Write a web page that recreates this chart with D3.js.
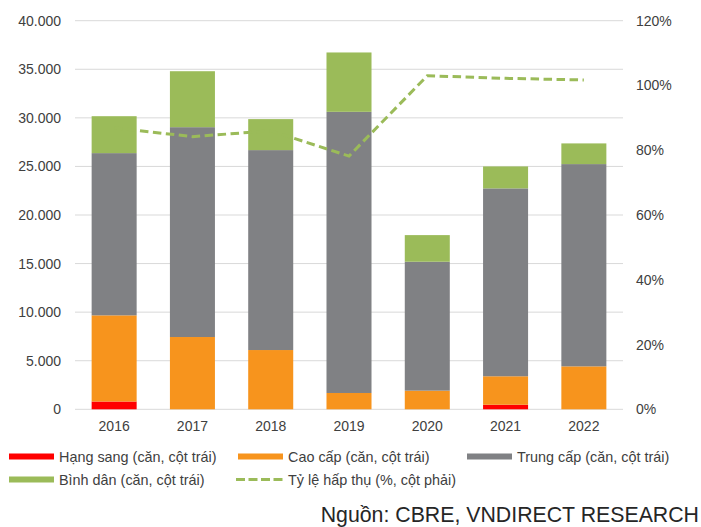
<!DOCTYPE html>
<html>
<head>
<meta charset="utf-8">
<script src="https://cdn.jsdelivr.net/npm/d3@7"></script>
<style>
  html, body { margin: 0; padding: 0; background: #fff; }
  svg { display: block; font-family: "Liberation Sans", Arial, sans-serif; }
</style>
</head>
<body>
<svg id="chart" width="701" height="527"></svg>
<script>
// ---- Data ----
const years = ["2016", "2017", "2018", "2019", "2020", "2021", "2022"];
const hangSang = [800, 0, 0, 0, 0, 470, 0];
const caoCap = [8870, 7440, 6100, 1680, 1920, 2930, 4420];
const trungCap = [16700, 21600, 20580, 28940, 13270, 19340, 20820];
const binhDan = [3800, 5760, 3190, 6110, 2740, 2260, 2130];
const tyLeHapThu = [86.9, 84.2, 86.0, 78.2, 103.0, 102.2, 101.7];

const leftTicks = [0, 5000, 10000, 15000, 20000, 25000, 30000, 35000, 40000];
const rightTicks = [0, 20, 40, 60, 80, 100, 120];

const seriesNames = ["Hạng sang (căn, cột trái)", "Cao cấp (căn, cột trái)", "Trung cấp (căn, cột trái)", "Bình dân (căn, cột trái)"];
const lineName = "Tỷ lệ hấp thụ (%, cột phải)";
const sourceText = "Nguồn: CBRE, VNDIRECT RESEARCH";

// ---- Styles ----
const colors = ["#FF0000", "#F7941D", "#808184", "#9BBB59"];
const lineColor = "#9BBB59";
const textColor = "#404040";

// ---- Layout ----
const svg = d3.select("#chart");
const plot = { left: 75, right: 623, top: 20.7, bottom: 409.3 };

const x = d3.scaleBand().domain(years).range([plot.left, plot.right])
  .paddingInner(0.425).paddingOuter(0.2125);
const yL = d3.scaleLinear().domain([0, 40000]).range([plot.bottom, plot.top]);
const yR = d3.scaleLinear().domain([0, 120]).range([plot.bottom, plot.top]);

const loc = d3.formatLocale({ decimal: ",", thousands: ".", grouping: [3], currency: ["", ""] });
const fmtL = loc.format(",d");

// gridlines
svg.append("g").selectAll("line").data(leftTicks).join("line")
  .attr("x1", plot.left).attr("x2", plot.right)
  .attr("y1", d => yL(d)).attr("y2", d => yL(d))
  .attr("stroke", "#d9d9d9").attr("stroke-width", 1);

// left axis
const axL = d3.axisLeft(yL).tickValues(leftTicks).tickFormat(d => d === 0 ? "0" : fmtL(d)).tickSize(0).tickPadding(0);
const gL = svg.append("g").attr("transform", `translate(61,0)`).call(axL);
gL.select(".domain").remove();
gL.selectAll("text").attr("fill", textColor).attr("font-size", 14).attr("font-family", "Liberation Sans, Arial, sans-serif");

// right axis
const axR = d3.axisRight(yR).tickValues(rightTicks).tickFormat(d => d + "%").tickSize(0).tickPadding(0);
const gR = svg.append("g").attr("transform", `translate(636,0)`).call(axR);
gR.select(".domain").remove();
gR.selectAll("text").attr("fill", textColor).attr("font-size", 14).attr("font-family", "Liberation Sans, Arial, sans-serif");

// bottom axis
const axB = d3.axisBottom(x).tickSize(0).tickPadding(0);
const gB = svg.append("g").attr("transform", `translate(0,${plot.bottom + 12})`).call(axB);
gB.select(".domain").remove();
gB.selectAll("text").attr("fill", textColor).attr("font-size", 14).attr("font-family", "Liberation Sans, Arial, sans-serif");

// stacked bars
const table = years.map((yr, i) => ({ year: yr, s0: hangSang[i], s1: caoCap[i], s2: trungCap[i], s3: binhDan[i] }));
const stack = d3.stack().keys(["s0", "s1", "s2", "s3"])(table);
svg.append("g").selectAll("g").data(stack).join("g")
  .attr("fill", (d, i) => colors[i])
  .selectAll("rect").data(d => d).join("rect")
  .attr("x", d => x(d.data.year))
  .attr("width", x.bandwidth())
  .attr("y", d => yL(d[1]))
  .attr("height", d => yL(d[0]) - yL(d[1]));

// line
const line = d3.line().x((d, i) => x(years[i]) + x.bandwidth() / 2).y(d => yR(d));
svg.append("path").datum(tyLeHapThu)
  .attr("d", line).attr("fill", "none")
  .attr("stroke", lineColor).attr("stroke-width", 3)
  .attr("stroke-dasharray", "8.5,4.5");

// legend
const legendItems = [
  { name: seriesNames[0], color: colors[0], type: "bar", sx: 9, tx: 59, y: 456.5 },
  { name: seriesNames[1], color: colors[1], type: "bar", sx: 238, tx: 288, y: 456.5 },
  { name: seriesNames[2], color: colors[2], type: "bar", sx: 467, tx: 517, y: 456.5 },
  { name: seriesNames[3], color: colors[3], type: "bar", sx: 9, tx: 59, y: 479.5 },
  { name: lineName, color: lineColor, type: "line", sx: 236, tx: 288, y: 479.5 }
];
const lg = svg.append("g");
legendItems.forEach(it => {
  if (it.type === "bar") {
    lg.append("rect").attr("x", it.sx).attr("y", it.y - 3).attr("width", 45).attr("height", 6).attr("fill", it.color);
  } else {
    lg.append("line").attr("x1", it.sx).attr("x2", it.sx + 48).attr("y1", it.y).attr("y2", it.y)
      .attr("stroke", it.color).attr("stroke-width", 3).attr("stroke-dasharray", "9,3.5");
  }
  lg.append("text").attr("x", it.tx).attr("y", it.y).attr("dy", "0.35em")
    .attr("font-size", 14.4).attr("fill", textColor).text(it.name);
});

// source
svg.append("text").attr("x", 699).attr("y", 522).attr("text-anchor", "end")
  .attr("font-size", 21.3).attr("fill", "#262626").text(sourceText);
</script>
</body>
</html>
